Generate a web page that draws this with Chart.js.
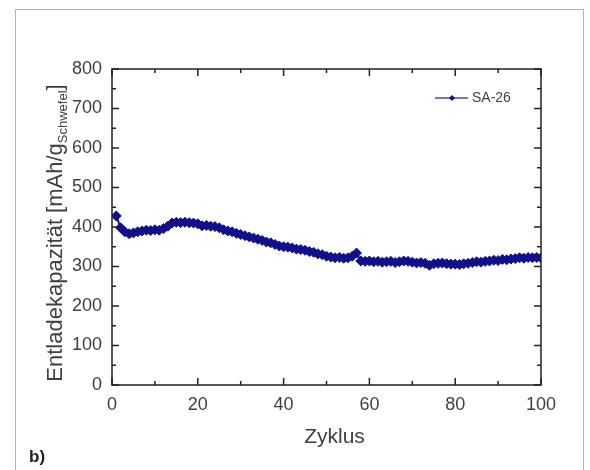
<!DOCTYPE html>
<html>
<head>
<meta charset="utf-8">
<script src="https://cdn.jsdelivr.net/npm/chart.js@4"></script>
<style>
  html, body { margin: 0; padding: 0; background: #fff; }
  #wrap { position: relative; width: 590px; height: 470px; overflow: hidden; }
  #frame { position: absolute; left: 15px; top: 9px; width: 569px; height: 480px; border: 1px solid #b4b4b4; box-sizing: border-box; }
  #c { position: absolute; left: 0; top: 0; }
</style>
</head>
<body>
<div id="wrap">
  <div id="frame"></div>
  <canvas id="c" width="590" height="470"></canvas>
</div>
<script>
// ---- data ----
const cycles = [];
for (let i = 1; i <= 100; i++) cycles.push(i);
const capacitySA26 = [
  428, 398, 388, 383, 385, 388, 390, 392, 391, 393,
  392, 396, 402, 410, 412, 411, 412, 411, 410, 408,
  403, 404, 402, 401, 398, 393, 390, 388, 384, 381,
  378, 375, 372, 369, 366, 362, 360, 356, 352, 350,
  349, 347, 344, 343, 341, 338, 336, 332, 330, 326,
  324, 322, 323, 321, 322, 326, 334, 314, 313, 314,
  312, 313, 311, 312, 313, 310, 312, 314, 313, 311,
  309, 310, 308, 303, 307, 308, 309, 307, 306, 306,
  305, 307, 308, 310, 312, 311, 313, 314, 316, 315,
  318, 317, 319, 320, 322, 321, 323, 322, 323, 322
];
const seriesName = 'SA-26';
const xTickLabels = [0, 20, 40, 60, 80, 100];
const yTickLabels = [0, 100, 200, 300, 400, 500, 600, 700, 800];
const xTitle = 'Zyklus';
const yTitleMain = 'Entladekapazität [mAh/g';
const yTitleSub = 'Schwefel';
const yTitleEnd = ']';
const panelLabel = 'b)';

const NAVY = '#10108c';
const TEXT = '#404040';
const FONT = 'Arial, "Liberation Sans", sans-serif';

const boxPlugin = {
  id: 'boxPlugin',
  afterDraw(chart) {
    const ctx = chart.ctx;
    const a = chart.chartArea;
    const xs = chart.scales.x, ys = chart.scales.y;
    ctx.save();
    // frame
    ctx.strokeStyle = '#222';
    ctx.lineWidth = 1.5;
    ctx.strokeRect(a.left, a.top, a.right - a.left, a.bottom - a.top);
    // inward ticks
    ctx.beginPath();
    for (let v = 0; v <= 100; v += 10) {
      const px = xs.getPixelForValue(v);
      const len = (v % 20 === 0) ? 7 : 4;
      ctx.moveTo(px, a.bottom); ctx.lineTo(px, a.bottom - len);
      ctx.moveTo(px, a.top); ctx.lineTo(px, a.top + len);
    }
    for (let v = 0; v <= 800; v += 50) {
      const py = ys.getPixelForValue(v);
      const len = (v % 100 === 0) ? 7 : 4;
      ctx.moveTo(a.left, py); ctx.lineTo(a.left + len, py);
      ctx.moveTo(a.right, py); ctx.lineTo(a.right - len, py);
    }
    ctx.stroke();

    // x title
    ctx.fillStyle = TEXT;
    ctx.font = '21px ' + FONT;
    ctx.textAlign = 'center';
    ctx.textBaseline = 'alphabetic';
    ctx.fillText(xTitle, (a.left + a.right) / 2 + 8, 443);

    // y title with subscript
    ctx.save();
    const mainFont = '22px ' + FONT, subFont = '13px ' + FONT;
    ctx.font = mainFont;
    const w1 = ctx.measureText(yTitleMain).width;
    const w3 = ctx.measureText(yTitleEnd).width;
    ctx.font = subFont;
    const w2 = ctx.measureText(yTitleSub).width;
    const total = w1 + w2 + w3;
    ctx.translate(62, (a.top + a.bottom) / 2 + 6);
    ctx.rotate(-Math.PI / 2);
    ctx.textAlign = 'left';
    let x0 = -total / 2;
    ctx.font = mainFont;
    ctx.fillText(yTitleMain, x0, 0);
    ctx.font = subFont;
    ctx.fillText(yTitleSub, x0 + w1, 5);
    ctx.font = mainFont;
    ctx.fillText(yTitleEnd, x0 + w1 + w2, 0);
    ctx.restore();

    // legend
    ctx.strokeStyle = '#4a4aa8';
    ctx.lineWidth = 1.5;
    ctx.beginPath();
    ctx.moveTo(435, 98); ctx.lineTo(468, 98);
    ctx.stroke();
    ctx.fillStyle = NAVY;
    ctx.beginPath();
    ctx.moveTo(452, 95); ctx.lineTo(455, 98); ctx.lineTo(452, 101); ctx.lineTo(449, 98);
    ctx.closePath(); ctx.fill();
    ctx.fillStyle = TEXT;
    ctx.font = '14px ' + FONT;
    ctx.textAlign = 'left';
    ctx.textBaseline = 'middle';
    ctx.fillText(seriesName, 472, 98);

    // panel label
    ctx.fillStyle = '#222';
    ctx.font = 'bold 17px ' + FONT;
    ctx.textAlign = 'left';
    ctx.textBaseline = 'alphabetic';
    ctx.fillText(panelLabel, 29, 462);
    ctx.restore();
  }
};

new Chart(document.getElementById('c'), {
  type: 'line',
  data: {
    labels: cycles,
    datasets: [{
      label: seriesName,
      data: cycles.map((c, i) => ({ x: c, y: capacitySA26[i] })),
      borderColor: NAVY,
      backgroundColor: NAVY,
      borderWidth: 2,
      pointStyle: 'rectRot',
      pointRadius: 5,
      pointBorderWidth: 1,
      pointBackgroundColor: NAVY,
      pointBorderColor: NAVY,
      tension: 0
    }]
  },
  options: {
    responsive: false,
    animation: false,
    devicePixelRatio: 1,
    layout: { padding: { top: 69, right: 49, left: 0, bottom: 0 } },
    plugins: { legend: { display: false }, tooltip: { enabled: false } },
    scales: {
      x: {
        type: 'linear', min: 0, max: 100,
        afterFit(s) { s.height = 85; },
        afterBuildTicks(s) { s.ticks = xTickLabels.map(v => ({ value: v })); },
        grid: { display: false, drawTicks: false },
        border: { display: false },
        ticks: { color: TEXT, font: { size: 18, family: FONT }, padding: 9, maxRotation: 0 }
      },
      y: {
        type: 'linear', min: 0, max: 800,
        afterFit(s) { s.width = 112; },
        afterBuildTicks(s) { s.ticks = yTickLabels.map(v => ({ value: v })); },
        grid: { display: false, drawTicks: false },
        border: { display: false },
        ticks: { color: TEXT, font: { size: 18, family: FONT }, padding: 10 }
      }
    }
  },
  plugins: [boxPlugin]
});
</script>
</body>
</html>
